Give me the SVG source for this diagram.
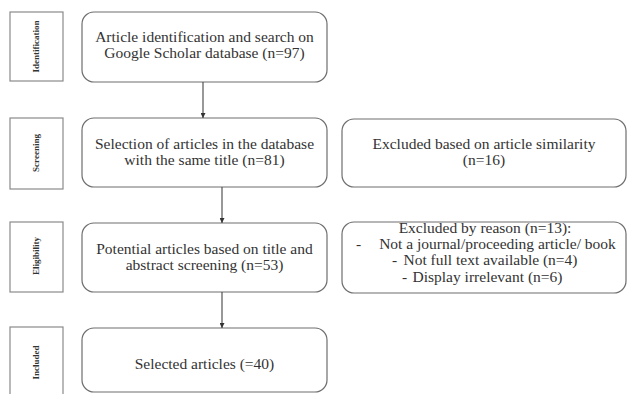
<svg xmlns="http://www.w3.org/2000/svg" width="627" height="394" viewBox="0 0 627 394">
<style>
.bg{fill:#ffffff}
.lbl rect{fill:#ffffff;stroke:#8a8a8a;stroke-width:1.2}
.lbl text{font-family:"Liberation Serif","Times New Roman",serif;font-size:9px;font-weight:bold;fill:#333;text-anchor:middle}
.box rect{fill:#ffffff;stroke:#6e6e6e;stroke-width:1.2}
.box text{font-family:"Liberation Serif","Times New Roman",serif;font-size:15.5px;fill:#333;text-anchor:middle}
.box text.l{text-anchor:start}
.conn line{stroke:#444;stroke-width:1.1}
</style>
<defs>
<marker id="ah" viewBox="0 0 8 8" refX="8" refY="4" markerWidth="5" markerHeight="5" orient="auto" markerUnits="userSpaceOnUse">
<path d="M0,0 L8,4 L0,8 z" fill="#333"/>
</marker>
</defs>
<rect class="bg" x="0" y="0" width="627" height="394"/>

<g id="label-identification" class="lbl">
<rect x="10" y="12" width="53" height="69"/>
<text transform="translate(39,46.5) rotate(-90)">Identification</text>
</g>
<g id="label-screening" class="lbl">
<rect x="10" y="118" width="53" height="71"/>
<text transform="translate(39,153) rotate(-90)">Screening</text>
</g>
<g id="label-eligibility" class="lbl">
<rect x="10" y="222" width="53" height="70"/>
<text transform="translate(39,256) rotate(-90)">Eligibility</text>
</g>
<g id="label-included" class="lbl">
<rect x="10" y="327" width="53" height="72"/>
<text transform="translate(39,362.5) rotate(-90)">Included</text>
</g>

<g id="node-identification" class="box">
<rect x="82" y="12" width="245" height="70" rx="12"/>
<text x="204.5" y="42">Article identification and search on</text>
<text x="204.5" y="58">Google Scholar database (n=97)</text>
</g>
<g id="node-screening" class="box">
<rect x="82" y="118" width="245" height="69" rx="12"/>
<text x="204.5" y="149">Selection of articles in the database</text>
<text x="204.5" y="165">with the same title (n=81)</text>
</g>
<g id="node-eligibility" class="box">
<rect x="82" y="223" width="245" height="69" rx="12"/>
<text x="204.5" y="254">Potential articles based on title and</text>
<text x="204.5" y="270">abstract screening (n=53)</text>
</g>
<g id="node-included" class="box">
<rect x="82" y="328" width="245" height="64" rx="12"/>
<text x="204.5" y="369">Selected articles (=40)</text>
</g>
<g id="node-excluded-similarity" class="box">
<rect x="342" y="119" width="284" height="68" rx="12"/>
<text x="484" y="149">Excluded based on article similarity</text>
<text x="484" y="165">(n=16)</text>
</g>
<g id="node-excluded-reason" class="box">
<rect x="342" y="222" width="284" height="71" rx="12"/>
<text x="485" y="233">Excluded by reason (n=13):</text>
<text class="l" x="356" y="249">-</text>
<text x="497.5" y="249">Not a journal/proceeding article/ book</text>
<text class="l" x="392" y="265">-</text>
<text x="490.5" y="265">Not full text available (n=4)</text>
<text class="l" x="402" y="282">-</text>
<text x="487.5" y="282">Display irrelevant (n=6)</text>
</g>

<g id="connectors" class="conn">
<line x1="203" y1="82" x2="203" y2="118" marker-end="url(#ah)"/>
<line x1="222" y1="187" x2="222" y2="223" marker-end="url(#ah)"/>
<line x1="222" y1="292" x2="222" y2="328" marker-end="url(#ah)"/>
</g>
</svg>
